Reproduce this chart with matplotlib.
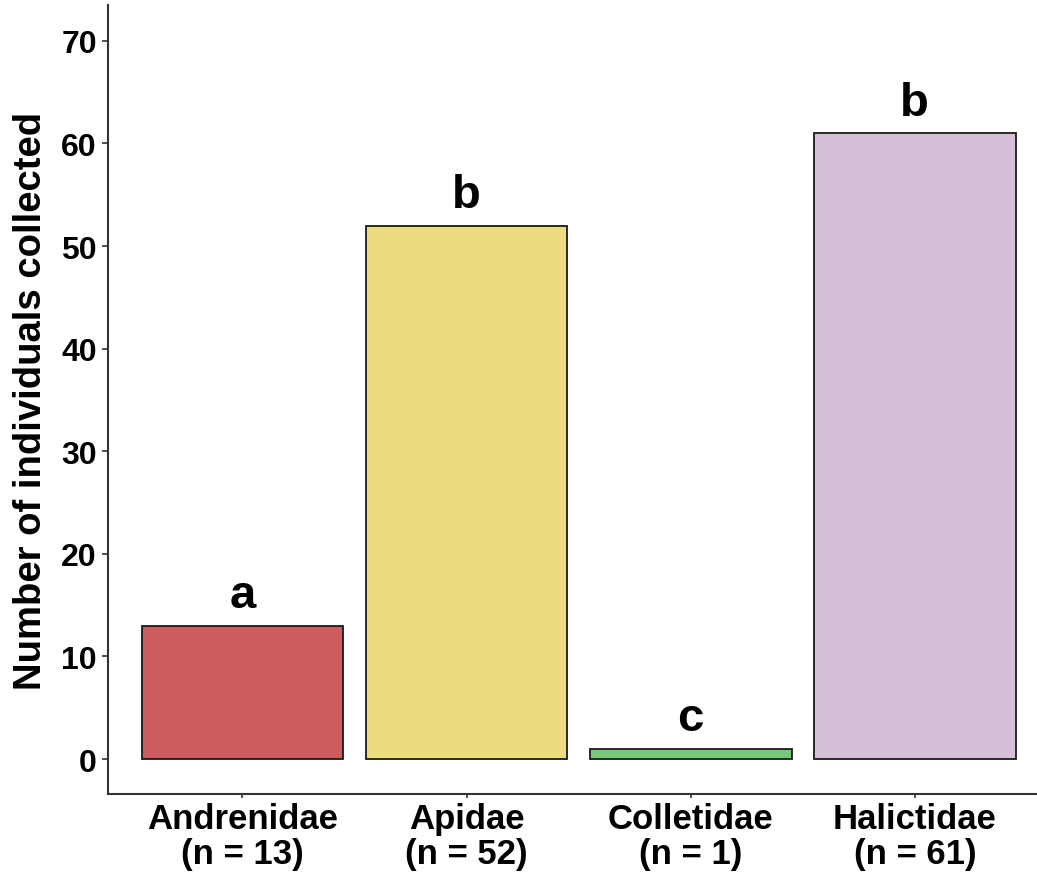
import matplotlib.pyplot as plt

families = ["Andrenidae", "Apidae", "Colletidae", "Halictidae"]
counts = [13, 52, 1, 61]
letters = ["a", "b", "c", "b"]
colors = ["#CD5C5C", "#EBDC80", "#77C979", "#D8BFD8"]

plt.rcParams["font.family"] = ["Liberation Sans", "DejaVu Sans"]
plt.rcParams["font.weight"] = "bold"

fig = plt.figure(figsize=(10.37, 8.79), dpi=100)
ax = fig.add_axes([0.1041, 0.0956, 0.8959, 0.8976])

x = list(range(len(families)))
ax.bar(x, counts, width=0.9, color=colors, edgecolor="#1a1a1a", linewidth=1.3)

# significance letters above each bar
for xi, c, lab in zip(x, counts, letters):
    ax.text(xi, c + 0.85, lab, ha="center", va="bottom", fontsize=34, fontweight="bold")

ax.set_xlim(-0.6, 3.545)
ax.set_ylim(-3.4, 73.5)
ax.set_yticks(range(0, 71, 10))
ax.set_xticks(x)
ax.set_xticklabels([f"{f}\n(n = {c})" for f, c in zip(families, counts)],
                   fontsize=25, fontweight="bold")
for lab in ax.get_xticklabels():
    lab.set_linespacing(1.08)
ax.tick_params(axis="y", labelsize=23, length=4, width=1.2, color="#333333", pad=4)
ax.tick_params(axis="x", length=3, width=1.2, color="#333333", pad=3)
for lab in ax.get_yticklabels():
    lab.set_fontweight("bold")

ax.set_ylabel("Number of individuals collected", fontsize=27.5, fontweight="bold", labelpad=9)

for s in ["top", "right"]:
    ax.spines[s].set_visible(False)
for s in ["left", "bottom"]:
    ax.spines[s].set_color("#333333")
    ax.spines[s].set_linewidth(1.5)

fig.savefig("out.png", dpi=100)
